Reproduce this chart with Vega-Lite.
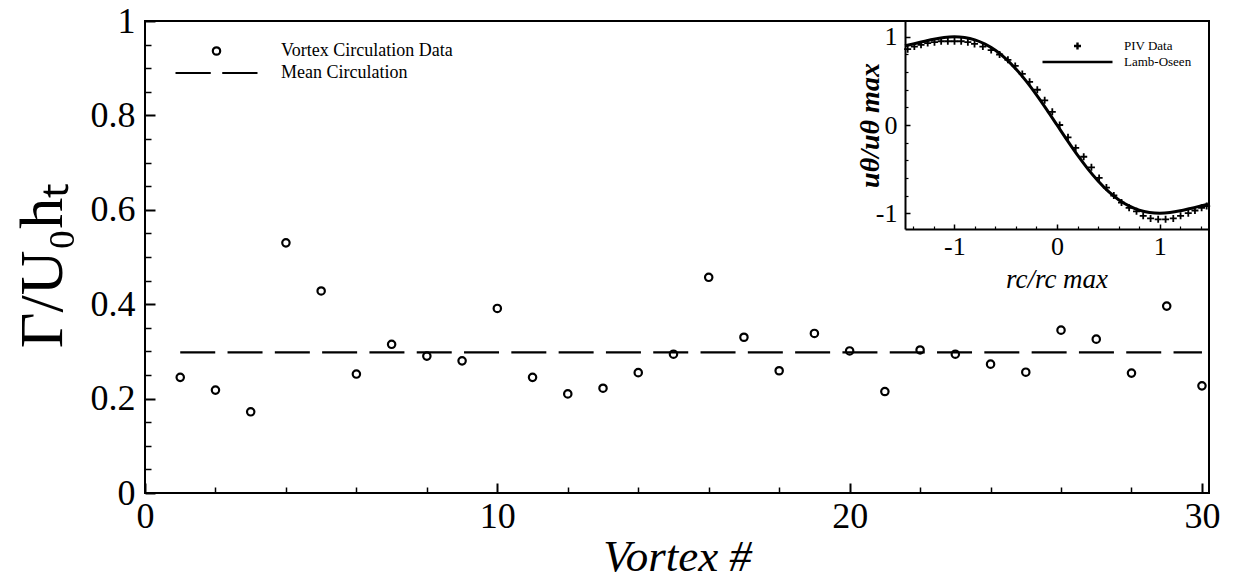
{
  "$schema": "https://vega.github.io/schema/vega-lite/v6.json",
  "width": 1064,
  "height": 472,
  "autosize": {"type": "none"},
  "padding": {"left": 145, "top": 21, "right": 24, "bottom": 87},
  "background": "white",
  "config": {
    "font": "Liberation Serif",
    "view": {"stroke": "black", "strokeWidth": 2},
    "axis": {"grid": false, "labelFlush": false, "labelOverlap": false, "labelColor": "black", "titleColor": "black", "tickColor": "black", "domainColor": "black", "labelFont": "Liberation Serif", "titleFont": "Liberation Serif"},
    "legend": {"labelFont": "Liberation Serif", "labelColor": "black"}
  },
  "datasets": {
    "vortex": [
      {"vortex": 1, "gamma": 0.245, "series": "Vortex Circulation Data"},
      {"vortex": 2, "gamma": 0.218, "series": "Vortex Circulation Data"},
      {"vortex": 3, "gamma": 0.172, "series": "Vortex Circulation Data"},
      {"vortex": 4, "gamma": 0.530, "series": "Vortex Circulation Data"},
      {"vortex": 5, "gamma": 0.428, "series": "Vortex Circulation Data"},
      {"vortex": 6, "gamma": 0.252, "series": "Vortex Circulation Data"},
      {"vortex": 7, "gamma": 0.315, "series": "Vortex Circulation Data"},
      {"vortex": 8, "gamma": 0.290, "series": "Vortex Circulation Data"},
      {"vortex": 9, "gamma": 0.280, "series": "Vortex Circulation Data"},
      {"vortex": 10, "gamma": 0.391, "series": "Vortex Circulation Data"},
      {"vortex": 11, "gamma": 0.245, "series": "Vortex Circulation Data"},
      {"vortex": 12, "gamma": 0.210, "series": "Vortex Circulation Data"},
      {"vortex": 13, "gamma": 0.222, "series": "Vortex Circulation Data"},
      {"vortex": 14, "gamma": 0.255, "series": "Vortex Circulation Data"},
      {"vortex": 15, "gamma": 0.294, "series": "Vortex Circulation Data"},
      {"vortex": 16, "gamma": 0.457, "series": "Vortex Circulation Data"},
      {"vortex": 17, "gamma": 0.330, "series": "Vortex Circulation Data"},
      {"vortex": 18, "gamma": 0.259, "series": "Vortex Circulation Data"},
      {"vortex": 19, "gamma": 0.338, "series": "Vortex Circulation Data"},
      {"vortex": 20, "gamma": 0.301, "series": "Vortex Circulation Data"},
      {"vortex": 21, "gamma": 0.215, "series": "Vortex Circulation Data"},
      {"vortex": 22, "gamma": 0.303, "series": "Vortex Circulation Data"},
      {"vortex": 23, "gamma": 0.294, "series": "Vortex Circulation Data"},
      {"vortex": 24, "gamma": 0.273, "series": "Vortex Circulation Data"},
      {"vortex": 25, "gamma": 0.256, "series": "Vortex Circulation Data"},
      {"vortex": 26, "gamma": 0.345, "series": "Vortex Circulation Data"},
      {"vortex": 27, "gamma": 0.326, "series": "Vortex Circulation Data"},
      {"vortex": 28, "gamma": 0.254, "series": "Vortex Circulation Data"},
      {"vortex": 29, "gamma": 0.396, "series": "Vortex Circulation Data"},
      {"vortex": 30, "gamma": 0.227, "series": "Vortex Circulation Data"}
    ],
    "mean": [
      {"start": 1, "end": 30, "mean": 0.298}
    ],
    "piv": [
      {"r": -1.454, "u": 0.86, "series": "PIV Data"},
      {"r": -1.389, "u": 0.89, "series": "PIV Data"},
      {"r": -1.324, "u": 0.91, "series": "PIV Data"},
      {"r": -1.259, "u": 0.93, "series": "PIV Data"},
      {"r": -1.193, "u": 0.94, "series": "PIV Data"},
      {"r": -1.128, "u": 0.95, "series": "PIV Data"},
      {"r": -1.063, "u": 0.95, "series": "PIV Data"},
      {"r": -0.998, "u": 0.95, "series": "PIV Data"},
      {"r": -0.933, "u": 0.95, "series": "PIV Data"},
      {"r": -0.868, "u": 0.94, "series": "PIV Data"},
      {"r": -0.803, "u": 0.92, "series": "PIV Data"},
      {"r": -0.722, "u": 0.89, "series": "PIV Data"},
      {"r": -0.641, "u": 0.85, "series": "PIV Data"},
      {"r": -0.559, "u": 0.80, "series": "PIV Data"},
      {"r": -0.478, "u": 0.74, "series": "PIV Data"},
      {"r": -0.407, "u": 0.67, "series": "PIV Data"},
      {"r": -0.338, "u": 0.58, "series": "PIV Data"},
      {"r": -0.267, "u": 0.49, "series": "PIV Data"},
      {"r": -0.192, "u": 0.40, "series": "PIV Data"},
      {"r": -0.120, "u": 0.28, "series": "PIV Data"},
      {"r": -0.046, "u": 0.15, "series": "PIV Data"},
      {"r": 0.026, "u": 0.0, "series": "PIV Data"},
      {"r": 0.107, "u": -0.14, "series": "PIV Data"},
      {"r": 0.182, "u": -0.26, "series": "PIV Data"},
      {"r": 0.260, "u": -0.36, "series": "PIV Data"},
      {"r": 0.335, "u": -0.48, "series": "PIV Data"},
      {"r": 0.410, "u": -0.60, "series": "PIV Data"},
      {"r": 0.481, "u": -0.71, "series": "PIV Data"},
      {"r": 0.553, "u": -0.80, "series": "PIV Data"},
      {"r": 0.628, "u": -0.88, "series": "PIV Data"},
      {"r": 0.702, "u": -0.94, "series": "PIV Data"},
      {"r": 0.774, "u": -0.98, "series": "PIV Data"},
      {"r": 0.839, "u": -1.03, "series": "PIV Data"},
      {"r": 0.911, "u": -1.06, "series": "PIV Data"},
      {"r": 0.985, "u": -1.07, "series": "PIV Data"},
      {"r": 1.057, "u": -1.07, "series": "PIV Data"},
      {"r": 1.132, "u": -1.06, "series": "PIV Data"},
      {"r": 1.203, "u": -1.03, "series": "PIV Data"},
      {"r": 1.278, "u": -1.00, "series": "PIV Data"},
      {"r": 1.343, "u": -0.97, "series": "PIV Data"},
      {"r": 1.408, "u": -0.94, "series": "PIV Data"},
      {"r": 1.457, "u": -0.92, "series": "PIV Data"}
    ],
    "lamb": [
      {"r": -1.48, "u": 0.90},
      {"r": -1.4, "u": 0.92},
      {"r": -1.3, "u": 0.947},
      {"r": -1.2, "u": 0.974},
      {"r": -1.1, "u": 0.993},
      {"r": -1.0, "u": 1.0},
      {"r": -0.9, "u": 0.992},
      {"r": -0.8, "u": 0.966},
      {"r": -0.7, "u": 0.918},
      {"r": -0.6, "u": 0.848},
      {"r": -0.5, "u": 0.754},
      {"r": -0.4, "u": 0.636},
      {"r": -0.3, "u": 0.498},
      {"r": -0.2, "u": 0.343},
      {"r": -0.1, "u": 0.175},
      {"r": 0.0, "u": 0.0},
      {"r": 0.1, "u": -0.175},
      {"r": 0.2, "u": -0.343},
      {"r": 0.3, "u": -0.498},
      {"r": 0.4, "u": -0.636},
      {"r": 0.5, "u": -0.754},
      {"r": 0.6, "u": -0.848},
      {"r": 0.7, "u": -0.918},
      {"r": 0.8, "u": -0.966},
      {"r": 0.9, "u": -0.992},
      {"r": 1.0, "u": -1.0},
      {"r": 1.1, "u": -0.993},
      {"r": 1.2, "u": -0.974},
      {"r": 1.3, "u": -0.947},
      {"r": 1.4, "u": -0.92},
      {"r": 1.47, "u": -0.90}
    ]
  },
  "layer": [
    {
      "layer": [
        {
          "data": {"name": "vortex"},
          "mark": {"type": "point", "filled": false, "color": "black", "strokeWidth": 2.2, "size": 6724, "opacity": 1},
          "encoding": {
            "x": {
              "field": "vortex", "type": "quantitative",
              "scale": {"domain": [0, 30.2], "nice": false, "zero": false},
              "axis": {"orient": "bottom", "values": [0, 10, 20, 30], "tickSize": -10, "tickWidth": 2, "domain": false, "labelFont": "Liberation Serif", "labelFontSize": 36, "labelPadding": 16, "labelExpr": "'' + datum.value", "title": "Vortex #", "titleFont": "Liberation Serif", "titleFontSize": 45, "titleFontStyle": "italic", "titleFontWeight": "normal", "titleBaseline": "alphabetic", "titleY": 77}
            },
            "y": {
              "field": "gamma", "type": "quantitative",
              "scale": {"domain": [0, 1], "nice": false, "zero": false},
              "axis": {"orient": "left", "values": [0, 0.2, 0.4, 0.6, 0.8, 1], "tickSize": -10, "tickWidth": 2, "domain": false, "labelFont": "Liberation Serif", "labelFontSize": 36, "labelPadding": 20, "labelExpr": "'' + datum.value", "title": "Γ/U₀hₜ", "titleFont": "Liberation Serif", "titleFontSize": 62, "titleFontWeight": "normal", "titleAngle": -90, "titleBaseline": "alphabetic", "titleAlign": "center", "titleX": -84, "titleY": 244}
            },
            "shape": {
              "field": "series", "type": "nominal",
              "scale": {"domain": ["Vortex Circulation Data", "Mean Circulation"], "range": ["M0.09,0A0.09,0.09,0,1,1,-0.09,0A0.09,0.09,0,1,1,0.09,0Z", "M-1,0L-0.14,0M0.14,0L1,0"]},
              "legend": {"orient": "none", "legendX": 29, "legendY": 20, "title": null, "columns": 1, "padding": 0, "clipHeight": 20, "rowPadding": 2, "labelFont": "Liberation Serif", "labelFontSize": 18, "labelOffset": 22, "labelLimit": 400, "labelBaseline": "middle", "symbolOffset": 0, "symbolSize": 6724, "symbolStrokeWidth": 2.2, "symbolStrokeColor": "black", "symbolFillColor": "transparent", "symbolOpacity": 1}
            }
          }
        },
        {
          "data": {"name": "mean"},
          "mark": {"type": "rule", "color": "black", "strokeWidth": 2.3, "strokeDash": [35, 12.3]},
          "encoding": {
            "x": {
              "field": "start", "type": "quantitative",
              "scale": {"domain": [0, 30.2], "nice": false, "zero": false},
              "axis": {"orient": "bottom", "values": [2, 4, 6, 8, 12, 14, 16, 18, 22, 24, 26, 28], "tickSize": -6, "tickWidth": 1.5, "domain": false, "labels": false, "title": null}
            },
            "x2": {"field": "end"},
            "y": {
              "field": "mean", "type": "quantitative",
              "scale": {"domain": [0, 1], "nice": false, "zero": false},
              "axis": {"orient": "left", "values": [0.05, 0.1, 0.15, 0.25, 0.3, 0.35, 0.45, 0.5, 0.55, 0.65, 0.7, 0.75, 0.85, 0.9, 0.95], "tickSize": -6, "tickWidth": 1.5, "domain": false, "labels": false, "title": null}
            }
          }
        }
      ],
      "resolve": {"axis": {"x": "independent", "y": "independent"}}
    },
    {
      "layer": [
        {
          "data": {"name": "piv"},
          "mark": {"type": "point", "filled": false, "color": "black", "strokeWidth": 1.8, "size": 4900, "opacity": 1},
          "encoding": {
            "x": {
              "field": "r", "type": "quantitative",
              "scale": {"domain": [-1.48, 1.47], "range": [760, 1063], "nice": false, "zero": false},
              "axis": {"orient": "bottom", "offset": -264, "values": [-1, 0, 1], "tickSize": -5, "tickWidth": 1.5, "domain": true, "domainWidth": 2, "labelFont": "Liberation Serif", "labelFontSize": 26, "labelPadding": 9, "labelExpr": "'' + datum.value", "title": "rc/rc max", "titleFont": "Liberation Serif", "titleFontSize": 27, "titleFontStyle": "italic", "titleFontWeight": "normal", "titleBaseline": "alphabetic", "titleY": 58}
            },
            "y": {
              "field": "u", "type": "quantitative",
              "scale": {"domain": [-1.18, 1.18], "range": [208, 0], "nice": false, "zero": false},
              "axis": {"orient": "left", "offset": -760, "values": [-1, 0, 1], "tickSize": -5, "tickWidth": 1.5, "domain": true, "domainWidth": 2, "labelFont": "Liberation Serif", "labelFontSize": 26, "labelPadding": 13, "labelExpr": "'' + datum.value", "title": "uθ/uθ max", "titleFont": "Liberation Serif", "titleFontSize": 28, "titleFontStyle": "italic", "titleFontWeight": "bold", "titleAngle": -90, "titleBaseline": "alphabetic", "titleAlign": "center", "titleX": -27}
            },
            "shape": {
              "field": "series", "type": "nominal",
              "scale": {"domain": ["PIV Data", "Lamb-Oseen"], "range": ["M-0.1,0L0.1,0M0,-0.1L0,0.1", "M-1,0L1,0"]},
              "legend": {"orient": "none", "legendX": 896, "legendY": 18, "title": null, "columns": 1, "padding": 0, "clipHeight": 14, "rowPadding": 2, "labelFont": "Liberation Serif", "labelFontSize": 13, "labelOffset": 10, "labelLimit": 300, "labelBaseline": "middle", "symbolOffset": 0, "symbolSize": 4900, "symbolStrokeWidth": 2.4, "symbolStrokeColor": "black", "symbolFillColor": "transparent", "symbolOpacity": 1}
            }
          }
        },
        {
          "data": {"name": "lamb"},
          "mark": {"type": "line", "color": "black", "strokeWidth": 3, "interpolate": "monotone"},
          "encoding": {
            "x": {
              "field": "r", "type": "quantitative",
              "scale": {"domain": [-1.48, 1.47], "range": [760, 1063], "nice": false, "zero": false},
              "axis": {"orient": "bottom", "offset": -264, "values": [-1.4, -1.2, -0.8, -0.6, -0.4, -0.2, 0.2, 0.4, 0.6, 0.8, 1.2, 1.4], "tickSize": -3, "tickWidth": 1.2, "domain": false, "labels": false, "title": null}
            },
            "y": {
              "field": "u", "type": "quantitative",
              "scale": {"domain": [-1.18, 1.18], "range": [208, 0], "nice": false, "zero": false},
              "axis": {"orient": "left", "offset": -760, "values": [-0.8, -0.6, -0.4, -0.2, 0.2, 0.4, 0.6, 0.8], "tickSize": -3, "tickWidth": 1.2, "domain": false, "labels": false, "title": null}
            }
          }
        }
      ],
      "resolve": {"axis": {"x": "independent", "y": "independent"}}
    }
  ],
  "resolve": {
    "scale": {"x": "independent", "y": "independent", "shape": "independent"},
    "axis": {"x": "independent", "y": "independent"},
    "legend": {"shape": "independent"}
  }
}
